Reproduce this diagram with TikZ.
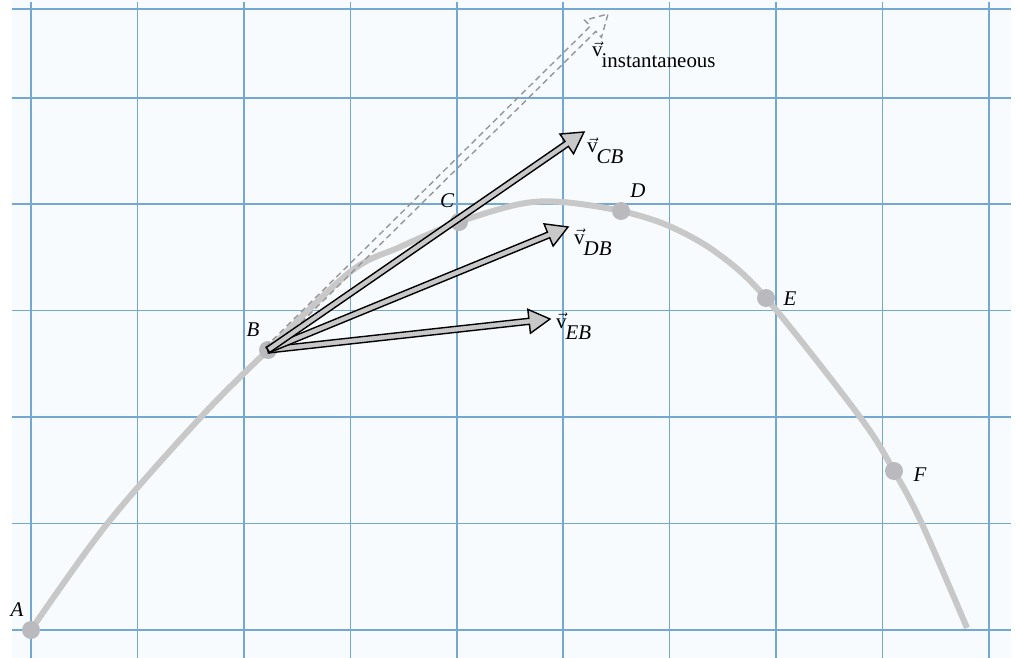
\documentclass[tikz,border=0pt]{standalone}
\usepackage{fontspec}
\setmainfont{Liberation Serif}
\usetikzlibrary{calc}
\definecolor{bgc}{RGB}{247,251,253}
\definecolor{gridc}{RGB}{116,168,210}
\definecolor{pathc}{RGB}{200,200,200}
\definecolor{dotc}{RGB}{186,186,190}
\definecolor{arrfill}{RGB}{200,200,200}
\definecolor{dashc}{RGB}{150,150,150}
\newcommand\fatarrow[4]{%
  \path[#3] let \p1=(#1), \p2=(#2), \n1={atan2(\y2-\y1,\x2-\x1)} in
    ($(\p1)+(\n1+90:#4)$) --
    ($(\p2)+(\n1+180:21bp)+(\n1+90:#4)$) --
    ($(\p2)+(\n1+180:21bp)+(\n1+90:12bp)$) --
    (\p2) --
    ($(\p2)+(\n1+180:21bp)+(\n1-90:12bp)$) --
    ($(\p2)+(\n1+180:21bp)+(\n1-90:#4)$) --
    ($(\p1)+(\n1-90:#4)$) -- cycle;}
\newcommand\vlab[1]{$\vec{\mbox{v}}$\kern-1bp\raisebox{-11bp}{#1}}
\begin{document}
\begin{tikzpicture}[x=1bp,y=-1bp,
  gridline/.style={draw=gridc,line width=1.5bp},
  trajectory/.style={draw=pathc,line width=6bp,line cap=butt,line join=round},
  dot/.style={circle,fill=dotc,minimum size=18bp,inner sep=0pt},
  lbl/.style={font=\fontsize{21}{25}\selectfont\itshape,inner sep=0pt},
  vlbl/.style={font=\fontsize{21}{25}\selectfont,inner sep=0pt,anchor=base west},
  velarrow/.style={fill=arrfill,draw=black,line width=1.4bp,line join=miter},
  dasharrow/.style={draw=dashc,line width=1.4bp,dash pattern=on 6bp off 4bp,line join=miter}]
\useasboundingbox (0,0) rectangle (1016,658);
\fill[bgc] (12,0) rectangle (1011,658);
\foreach \i in {0,...,9} \draw[gridline] ({31+106.44*\i},2) -- ({31+106.44*\i},658);
\foreach \j in {0,...,5} \draw[gridline] (12,{630-106.44*\j}) -- (1011,{630-106.44*\j});
\draw[gridline] (12,9) -- (1011,9);

\draw[trajectory] plot[smooth,tension=0.55] coordinates {(31,630) (107,524) (200,418) (268,350) (350,272) (400,247) (459,222) (520,204) (562,202) (621,211) (669,226) (717,253) (766,298) (860,417) (894,471) (922,524) (967,628)};

\node[dot] (A) at (31,630) {};
\node[dot] (B) at (268,350) {};
\node[dot] (C) at (459,222) {};
\node[dot] (D) at (621,211) {};
\node[dot] (E) at (766,298) {};
\node[dot] (F) at (894,471) {};

\node[lbl] (lA) at (17,610) {A};
\node[lbl] (lB) at (253,330) {B};
\node[lbl] (lC) at (447,201) {C};
\node[lbl] (lD) at (638,191) {D};
\node[lbl] (lE) at (790,299) {E};
\node[lbl] (lF) at (920,475) {F};

\coordinate (tipI) at (608,14);
\coordinate (tipCB) at (584,132);
\coordinate (tipDB) at (568,227);
\coordinate (tipEB) at (550,319);

\fatarrow{B}{tipI}{dasharrow}{3.8bp}
\fatarrow{B}{tipEB}{velarrow}{3bp}
\fatarrow{B}{tipDB}{velarrow}{3bp}
\fatarrow{B}{tipCB}{velarrow}{3bp}

\node[vlbl] (vI) at (592,57) {\vlab{instantaneous}};
\node[vlbl] (vCB) at (587,153) {\vlab{\itshape CB}};
\node[vlbl] (vDB) at (574,244) {\vlab{\itshape DB}};
\node[vlbl] (vEB) at (556,328) {\vlab{\itshape EB}};
\end{tikzpicture}
\end{document}
